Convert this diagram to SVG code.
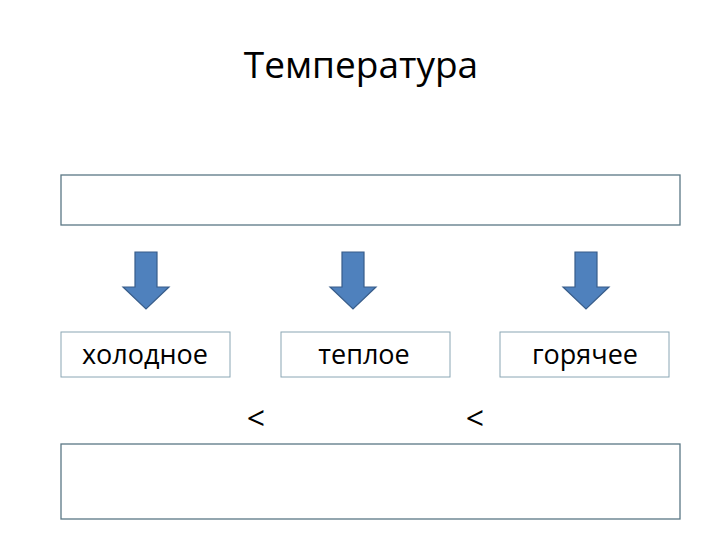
<svg xmlns="http://www.w3.org/2000/svg" width="720" height="540" viewBox="0 0 720 540">
<style>
.big{fill:#fff;stroke:#5a7785;stroke-width:1.3}
.small{fill:#fff;stroke:#8aa6b4;stroke-width:1}
.t{font-family:"Open Sans","Liberation Sans",sans-serif;fill:#000}
.lbl{font-size:27px;text-anchor:middle}
.arr{fill:#4f81bd;stroke:#385d8a;stroke-width:1.2}
</style>
<defs>
<path id="down" d="M-11,0 H11 V35 H23 L0,57 L-23,35 H-11 Z"/>
</defs>
<rect width="720" height="540" fill="#fff"/>
<g id="title"><text class="t" x="361" y="78" font-size="37" text-anchor="middle">Температура</text></g>
<g id="top-box"><rect class="big" x="61" y="175" width="619" height="50"/></g>
<g id="cold"><rect class="small" x="61" y="332" width="169" height="45"/><text class="t lbl" x="145" y="364">холодное</text></g>
<g id="warm"><rect class="small" x="281" y="332" width="169" height="45"/><text class="t lbl" x="364" y="364">теплое</text></g>
<g id="hot"><rect class="small" x="500" y="332" width="169" height="45"/><text class="t lbl" x="585" y="364">горячее</text></g>
<g id="lt1"><text class="t" x="256" y="430" font-size="32" text-anchor="middle">&lt;</text></g>
<g id="lt2"><text class="t" x="475" y="430" font-size="32" text-anchor="middle">&lt;</text></g>
<g id="bottom-box"><rect class="big" x="61" y="444" width="619" height="75"/></g>
<g id="connectors">
<use href="#down" class="arr" transform="translate(146,252)"/>
<use href="#down" class="arr" transform="translate(353,252)"/>
<use href="#down" class="arr" transform="translate(586,252)"/>
</g>
</svg>
